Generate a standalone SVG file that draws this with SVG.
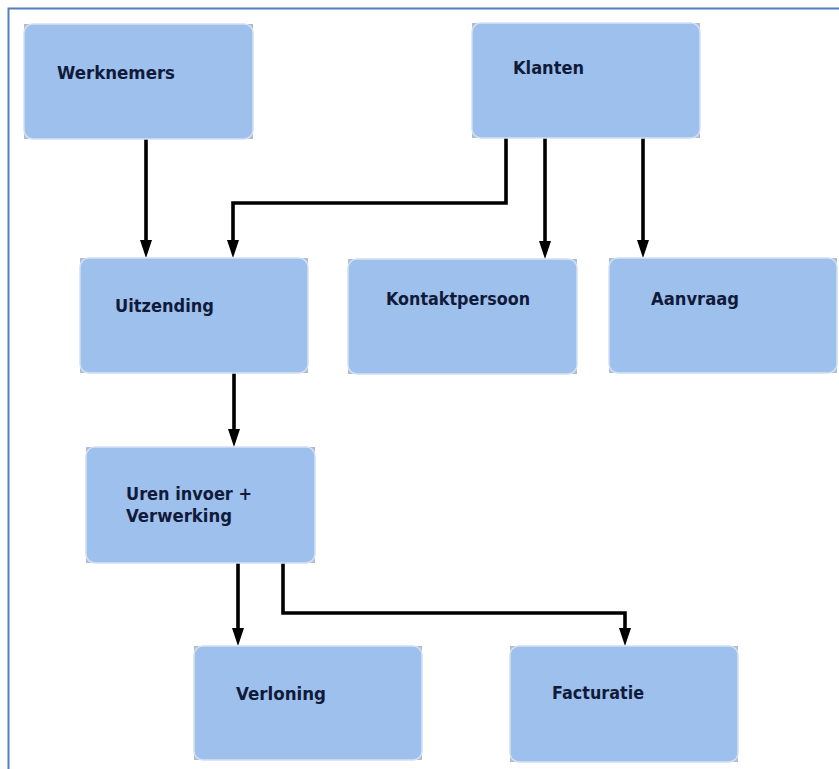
<svg xmlns="http://www.w3.org/2000/svg" width="839" height="769" viewBox="0 0 839 769">
<style>
.bg{fill:#b3bccc}
.box{fill:#9ec0ec;stroke:#d3e0f3;stroke-width:1.5}
.lbl{font-family:"DejaVu Sans",Verdana,sans-serif;font-weight:bold;font-size:18px;fill:#101a3a}
.con{fill:none;stroke:#000;stroke-width:3.6}
.ah{fill:#000}
</style>
<rect x="0" y="0" width="839" height="769" fill="#fff"/>
<rect x="8.5" y="8.5" width="840" height="770" fill="none" stroke="#4f81bd" stroke-width="2"/>
<g id="connectors">
<path class="con" d="M146,139 V241"/>
<path class="ah" d="M140,240 L152,240 L146,258 Z"/>
<path class="con" d="M506,138 V203 H233 V241"/>
<path class="ah" d="M227,240 L239,240 L233,258 Z"/>
<path class="con" d="M545,138 V242"/>
<path class="ah" d="M539,241 L551,241 L545,259 Z"/>
<path class="con" d="M643,138 V241"/>
<path class="ah" d="M637,240 L649,240 L643,258 Z"/>
<path class="con" d="M234,373 V430"/>
<path class="ah" d="M228,429 L240,429 L234,447 Z"/>
<path class="con" d="M238,563 V629"/>
<path class="ah" d="M232,628 L244,628 L238,646 Z"/>
<path class="con" d="M283,563 V613 H625 V629"/>
<path class="ah" d="M619,628 L631,628 L625,646 Z"/>
</g>
<g id="werknemers">
<rect class="bg" x="24" y="24" width="229" height="115"/>
<rect class="box" x="24" y="24" width="229" height="115" rx="9"/>
<text class="lbl" x="57" y="79" textLength="118" lengthAdjust="spacingAndGlyphs">Werknemers</text>
</g>
<g id="klanten">
<rect class="bg" x="472" y="23" width="228" height="115"/>
<rect class="box" x="472" y="23" width="228" height="115" rx="9"/>
<text class="lbl" x="513" y="74" textLength="71" lengthAdjust="spacingAndGlyphs">Klanten</text>
</g>
<g id="uitzending">
<rect class="bg" x="80" y="258" width="228" height="115"/>
<rect class="box" x="80" y="258" width="228" height="115" rx="9"/>
<text class="lbl" x="115" y="312" textLength="99" lengthAdjust="spacingAndGlyphs">Uitzending</text>
</g>
<g id="kontaktpersoon">
<rect class="bg" x="348" y="259" width="229" height="115"/>
<rect class="box" x="348" y="259" width="229" height="115" rx="9"/>
<text class="lbl" x="386" y="305" textLength="144" lengthAdjust="spacingAndGlyphs">Kontaktpersoon</text>
</g>
<g id="aanvraag">
<rect class="bg" x="609" y="258" width="228" height="115"/>
<rect class="box" x="609" y="258" width="228" height="115" rx="9"/>
<text class="lbl" x="651" y="305" textLength="88" lengthAdjust="spacingAndGlyphs">Aanvraag</text>
</g>
<g id="uren">
<rect class="bg" x="86" y="447" width="229" height="116"/>
<rect class="box" x="86" y="447" width="229" height="116" rx="9"/>
<text class="lbl" x="126" y="500" textLength="126" lengthAdjust="spacingAndGlyphs">Uren invoer +</text>
<text class="lbl" x="126" y="522" textLength="106" lengthAdjust="spacingAndGlyphs">Verwerking</text>
</g>
<g id="verloning">
<rect class="bg" x="194" y="646" width="228" height="114"/>
<rect class="box" x="194" y="646" width="228" height="114" rx="9"/>
<text class="lbl" x="236" y="700" textLength="90" lengthAdjust="spacingAndGlyphs">Verloning</text>
</g>
<g id="facturatie">
<rect class="bg" x="510" y="646" width="228" height="116"/>
<rect class="box" x="510" y="646" width="228" height="116" rx="9"/>
<text class="lbl" x="552" y="699" textLength="92" lengthAdjust="spacingAndGlyphs">Facturatie</text>
</g>
</svg>
